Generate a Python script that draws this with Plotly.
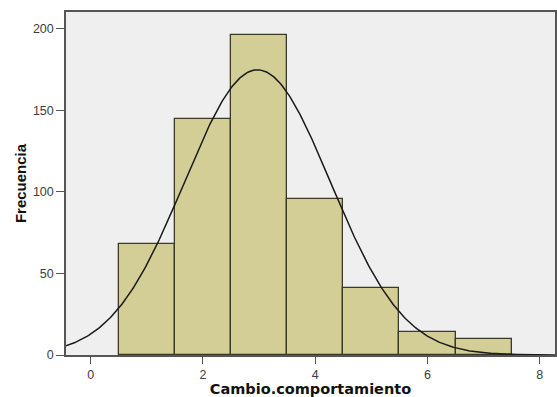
import numpy as np
import plotly.graph_objects as go

# Histogram bins (centres) and counts
bin_centers = [1, 2, 3, 4, 5, 6, 7]
counts = [68, 145, 196, 96, 41, 14, 10]
bin_width = 1.0

# Fitted normal curve parameters (as drawn by SPSS)
curve_mean = 2.97
curve_sd = 1.30
n_total = sum(counts)

x_ticks = [0, 2, 4, 6, 8]
y_ticks = [0, 50, 100, 150, 200]

xc = np.linspace(-0.5, 8.3, 400)
yc = n_total * bin_width / (curve_sd * np.sqrt(2 * np.pi)) * np.exp(-((xc - curve_mean) ** 2) / (2 * curve_sd ** 2))

fig = go.Figure()
fig.add_trace(go.Bar(
    x=bin_centers, y=counts, width=bin_width,
    marker=dict(color="#D3CD96", line=dict(color="#3A3A2C", width=1.3)),
    showlegend=False, hoverinfo="x+y",
))
fig.add_trace(go.Scatter(
    x=xc, y=yc, mode="lines",
    line=dict(color="#1A1A1A", width=1.5),
    showlegend=False, hoverinfo="skip",
))

fig.update_layout(
    width=557, height=397,
    margin=dict(l=66, r=0, t=12, b=42),
    paper_bgcolor="white",
    plot_bgcolor="#EFEFEF",
    bargap=0,
    font=dict(family="Arial, Liberation Sans, sans-serif", color="#3C3C3C", size=12.5),
    xaxis=dict(
        range=[-0.44, 8.27], tickvals=x_ticks, ticks="outside", ticklen=7,
        tickcolor="#555555", showgrid=False, zeroline=False,
        showline=True, linecolor="#555555", linewidth=1.5, mirror=True,
        tickfont=dict(size=12.5, color="#3C3C3C"),
        title=dict(text="<b>Cambio.comportamiento</b>",
                   font=dict(family="DejaVu Sans", size=14.5, color="#111111"), standoff=0),
    ),
    yaxis=dict(
        range=[0, 210.4], tickvals=y_ticks, ticks="outside", ticklen=8,
        tickcolor="#555555", showgrid=False, zeroline=False,
        showline=True, linecolor="#555555", linewidth=1.5, mirror=True,
        tickfont=dict(size=12.5, color="#3C3C3C"),
        title=dict(text="<b>Frecuencia</b>",
                   font=dict(family="Arial, Liberation Sans, sans-serif", size=15, color="#111111"), standoff=3),
    ),
)

fig.write_html("out.html")
